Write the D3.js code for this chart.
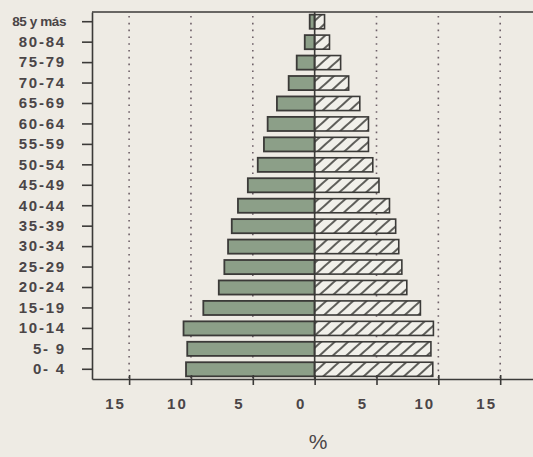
<!DOCTYPE html>
<html>
<head>
<meta charset="utf-8">
<script src="https://cdn.jsdelivr.net/npm/d3@7"></script>
<style>
  html, body { margin: 0; padding: 0; background: #eeebe4; }
  svg { display: block; }
</style>
</head>
<body>
<svg id="chart" width="533" height="457"></svg>
<script>
// ---- Data (bottom to top) ----
const ageGroups = ["0- 4","5- 9","10-14","15-19","20-24","25-29","30-34","35-39","40-44","45-49","50-54","55-59","60-64","65-69","70-74","75-79","80-84","85 y más"];
const leftValues  = [10.4, 10.3, 10.6, 9.0, 7.75, 7.3, 7.0, 6.7, 6.2, 5.4, 4.6, 4.1, 3.8, 3.05, 2.1, 1.45, 0.8, 0.4];   // green solid bars (left)
const rightValues = [9.55, 9.4, 9.6, 8.55, 7.45, 7.05, 6.8, 6.55, 6.05, 5.2, 4.7, 4.35, 4.35, 3.65, 2.75, 2.1, 1.2, 0.8]; // hatched bars (right)
const xTicks = [-15, -10, -5, 0, 5, 10, 15];
const xTickLabels = ["15", "10", "5", "0", "5", "10", "15"];
const xAxisTitle = "%";

const svg = d3.select("#chart");
const pLeft = 92, pRight = 537.3, pTop = 12, pBottom = 379;

const x = d3.scaleLinear().domain([-18, 18]).range([pLeft, pRight]);
const y = d3.scaleBand().domain(ageGroups.slice().reverse()).range([pTop, pBottom])
  .paddingInner(0.31).paddingOuter(0.13);

const ink = "#3b3a38";
const textCol = "#4a4547";

// hatch pattern
const defs = svg.append("defs");
const pat = defs.append("pattern").attr("id", "hatch")
  .attr("patternUnits", "userSpaceOnUse").attr("width", 9).attr("height", 9)
  .attr("patternTransform", "rotate(48)");
pat.append("rect").attr("width", 9).attr("height", 9).attr("fill", "#f1f0ea");
pat.append("line").attr("x1", 1).attr("y1", 0).attr("x2", 1).attr("y2", 9)
  .attr("stroke", "#3a3a36").attr("stroke-width", 1.6);

// dotted gridlines
svg.append("g").selectAll("line").data(xTicks.filter(d => d !== 0)).join("line")
  .attr("x1", d => x(d)).attr("x2", d => x(d))
  .attr("y1", pTop + 4).attr("y2", pBottom)
  .attr("stroke", "#6e6068").attr("stroke-width", 1.6)
  .attr("stroke-dasharray", "1.6,5.2");

// bars
const rows = ageGroups.map((a, i) => ({ age: a, l: leftValues[i], r: rightValues[i] }));
svg.append("g").selectAll("rect").data(rows).join("rect")
  .attr("x", d => x(-d.l)).attr("y", d => y(d.age))
  .attr("width", d => x(0) - x(-d.l)).attr("height", y.bandwidth())
  .attr("fill", "#8c9f88").attr("stroke", ink).attr("stroke-width", 1.8);
svg.append("g").selectAll("rect").data(rows).join("rect")
  .attr("x", x(0)).attr("y", d => y(d.age))
  .attr("width", d => x(d.r) - x(0)).attr("height", y.bandwidth())
  .attr("fill", "url(#hatch)").attr("stroke", ink).attr("stroke-width", 1.6);

// zero line
svg.append("line").attr("x1", x(0)).attr("x2", x(0)).attr("y1", pTop).attr("y2", pBottom)
  .attr("stroke", ink).attr("stroke-width", 1.6);

// frame: top
svg.append("line").attr("x1", pLeft).attr("x2", 533).attr("y1", pTop).attr("y2", pTop)
  .attr("stroke", ink).attr("stroke-width", 1.6);

// y axis
const yAxis = svg.append("g").attr("transform", `translate(${pLeft},0)`)
  .call(d3.axisLeft(y).tickSize(10).tickSizeOuter(0).tickPadding(16));
yAxis.select(".domain").attr("stroke", ink).attr("stroke-width", 1.6);
yAxis.selectAll(".tick line").attr("stroke", ink).attr("stroke-width", 1.6);
yAxis.selectAll(".tick text")
  .attr("fill", textCol)
  .style("font-family", "Liberation Sans, Arial, sans-serif")
  .style("font-weight", "bold")
  .style("font-size", d => d === "85 y más" ? "13.5px" : "15px")
  .style("letter-spacing", d => d === "85 y más" ? "-0.4px" : "1.8px");

// x axis
const xAxis = svg.append("g").attr("transform", `translate(0,${pBottom})`)
  .call(d3.axisBottom(x).tickValues(xTicks).tickFormat((d, i) => xTickLabels[i])
    .tickSizeInner(6).tickSizeOuter(0).tickPadding(13));
xAxis.select(".domain").attr("stroke", ink).attr("stroke-width", 1.6);
xAxis.selectAll(".tick line").attr("stroke", ink).attr("stroke-width", 1.6).attr("y1", -4);
xAxis.selectAll(".tick text")
  .attr("fill", textCol).attr("dx", -14)
  .style("font-family", "Liberation Sans, Arial, sans-serif")
  .style("font-weight", "bold").style("font-size", "15px")
  .style("letter-spacing", "2px");

svg.append("text").attr("x", 318).attr("y", 449).attr("text-anchor", "middle")
  .attr("fill", textCol)
  .style("font-family", "Liberation Sans, Arial, sans-serif")
  .style("font-size", "21px").text(xAxisTitle);
</script>
</body>
</html>
